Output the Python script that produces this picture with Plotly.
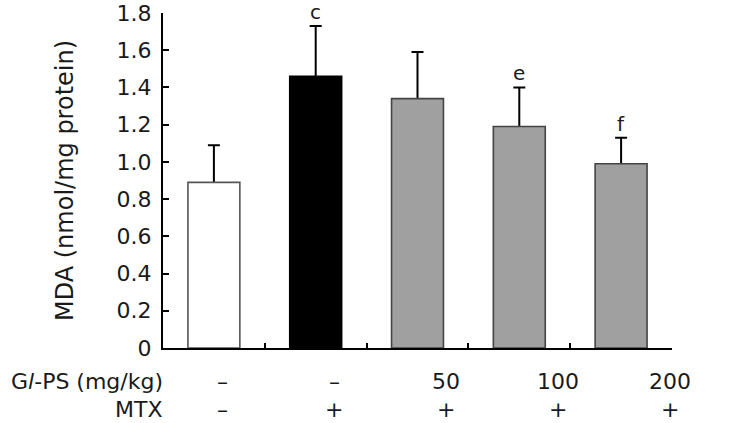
import plotly.graph_objects as go

# Data
groups = ["Control", "MTX", "GlPS50", "GlPS100", "GlPS200"]
mda_mean = [0.89, 1.46, 1.34, 1.19, 0.99]
mda_err = [0.20, 0.27, 0.25, 0.21, 0.14]
sig_letters = ["", "c", "", "e", "f"]
glps_labels = ["–", "–", "50", "100", "200"]
mtx_labels = ["–", "+", "+", "+", "+"]
y_tickvals = [0, 0.2, 0.4, 0.6, 0.8, 1.0, 1.2, 1.4, 1.6, 1.8]
y_ticktext = ["0", "0.2", "0.4", "0.6", "0.8", "1.0", "1.2", "1.4", "1.6", "1.8"]

bar_fill = ["#ffffff", "#000000", "#a0a0a0", "#a0a0a0", "#a0a0a0"]
bar_line = ["#555555", "#000000", "#444444", "#444444", "#444444"]

FONT = "DejaVu Sans, Verdana, sans-serif"
TXT = "#1a1a1a"
FS = 22

xs = list(range(len(groups)))

fig = go.Figure()
# error bars (drawn first, lower half hidden behind the bars)
fig.add_trace(go.Bar(
    x=xs, y=mda_mean, width=0.51,
    marker=dict(color="rgba(0,0,0,0)", line=dict(width=0)),
    error_y=dict(type="data", array=mda_err, color="#000000",
                 thickness=2, width=6),
    showlegend=False, hoverinfo="skip",
))
fig.add_trace(go.Bar(
    x=xs, y=mda_mean, width=0.51,
    marker=dict(color=bar_fill, line=dict(color=bar_line, width=1.6)),
    showlegend=False, hoverinfo="skip",
))

annotations = []
for i, (m, e, s) in enumerate(zip(mda_mean, mda_err, sig_letters)):
    if s:
        annotations.append(dict(x=i, y=m + e, xref="x", yref="y", text=s,
                                showarrow=False, yanchor="bottom", yshift=0,
                                font=dict(family=FONT, size=20, color=TXT)))

# bottom treatment rows
row_step = 1.1
row_off = 0.08
for i, (g, mt) in enumerate(zip(glps_labels, mtx_labels)):
    xp = row_off + i * row_step
    annotations.append(dict(x=xp, y=0, xref="x", yref="paper", text=g,
                            showarrow=False, yanchor="middle", yshift=-33,
                            font=dict(family=FONT, size=FS, color=TXT)))
    annotations.append(dict(x=xp, y=0, xref="x", yref="paper", text=mt,
                            showarrow=False, yanchor="middle", yshift=-61,
                            font=dict(family=FONT, size=FS, color=TXT)))
annotations.append(dict(x=0.004, y=0, xref="paper", yref="paper",
                        text="G<i>l</i>-PS (mg/kg)", showarrow=False,
                        xanchor="right", yanchor="middle", yshift=-33,
                        font=dict(family=FONT, size=FS, color=TXT)))
annotations.append(dict(x=0.004, y=0, xref="paper", yref="paper",
                        text="MTX", showarrow=False,
                        xanchor="right", yanchor="middle", yshift=-61,
                        font=dict(family=FONT, size=FS, color=TXT)))

fig.update_layout(
    width=729, height=423,
    margin=dict(l=163, r=57, t=13, b=75, autoexpand=False),
    paper_bgcolor="white", plot_bgcolor="white",
    font=dict(family=FONT, size=FS, color=TXT),
    annotations=annotations,
    barmode="overlay",
)
fig.update_xaxes(
    range=[-0.5, 4.5], showgrid=False, zeroline=False, automargin=False,
    showline=True, linecolor="#000000", linewidth=2,
    tickvals=[0.5, 1.5, 2.5, 3.5], ticks="inside", ticklen=5,
    tickwidth=1.5, tickcolor="#000000", showticklabels=False,
)
fig.update_yaxes(
    range=[0, 1.8], showgrid=False, zeroline=False, automargin=False,
    showline=True, linecolor="#000000", linewidth=2,
    tickvals=y_tickvals, ticktext=y_ticktext,
    ticks="inside", ticklen=6, tickwidth=1.5, tickcolor="#000000",
    tickfont=dict(family=FONT, size=FS, color=TXT),
    ticklabelstandoff=5,
    title=dict(text="MDA (nmol/mg protein)", standoff=36,
               font=dict(family=FONT, size=24, color=TXT)),
)

fig.write_html("out.html", config={"displayModeBar": False},
               post_script="document.body.style.margin='0';document.body.style.overflow='hidden';")
